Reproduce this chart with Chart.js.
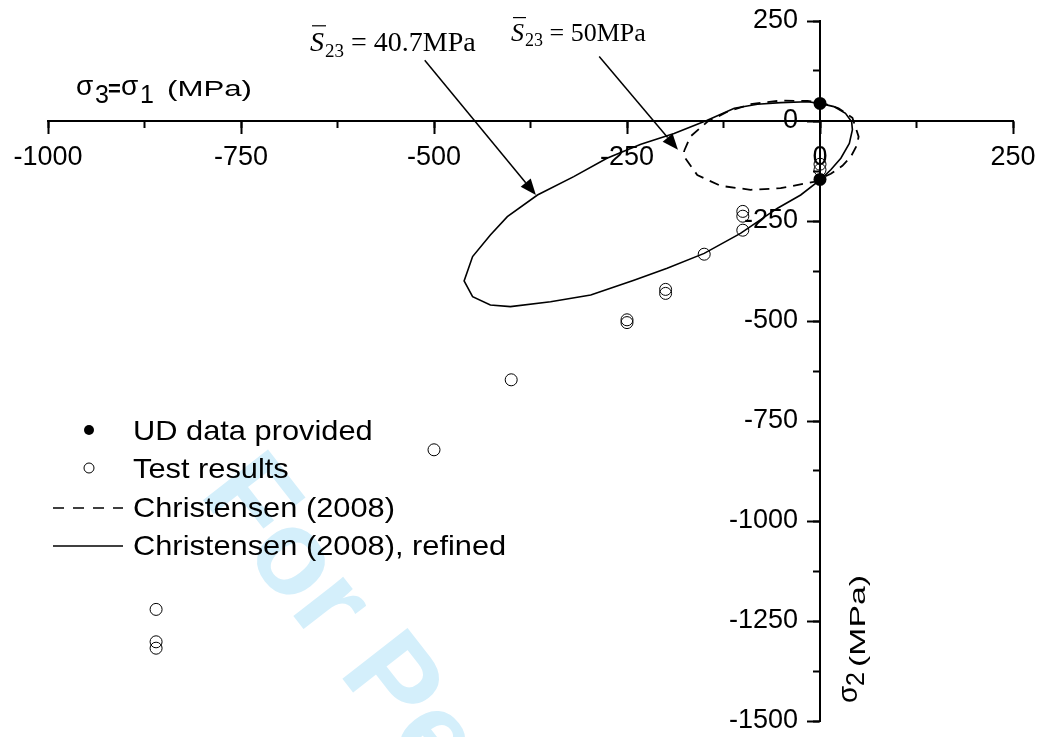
<!DOCTYPE html>
<html>
<head>
<meta charset="utf-8">
<script src="https://cdn.jsdelivr.net/npm/chart.js@4.4.1/dist/chart.umd.min.js"></script>
<style>
  html, body { margin: 0; padding: 0; background: #fff; }
</style>
</head>
<body>
<canvas id="chart" width="1039" height="737"></canvas>
<script>
// UD data provided  (x = sigma3 = sigma1, y = sigma2, MPa)
const udX = [0, 0];
const udY = [44, -146];

// test results
const testX = [0, 0, -100, -100, -100, -150, -200, -200, -250, -250, -400, -500, -860, -860, -860];
const testY = [-108, -122, -226, -238, -273, -333, -421, -431, -497, -504, -647, -822, -1221, -1302, -1318];

// Christensen (2008), S23 = 50 MPa  (read round the dashed curve)
const chrX = [-176, -168, -146, -120, -90, -51, -16, 1, 24, 42, 50, 48, 40, 29, 14, -8, -51, -90, -129, -159, -176, -176];
const chrY = [-75, -39, -2, 23, 42, 51, 50, 46, 32, 8, -39, -60, -89, -112, -132, -152, -168, -172, -162, -135, -89, -75];

// Christensen (2008), refined, S23 = 40.7 MPa
const refX = [0, 18, 33, 41, 42, 38, 27, 14, 1, -25, -55, -103, -150, -198, -241, -297, -349, -401, -427, -450, -461, -450, -427, -405, -366, -319, -276, -232, -189, -146, -111, -81, -51, -16, 0];
const refY = [44, 36, 19, -2, -22, -56, -93, -122, -146, -185, -218, -281, -331, -368, -398, -435, -452, -464, -460, -439, -400, -339, -285, -239, -185, -139, -93, -58, -31, 2, 32, 42, 46, 48, 44];

const xTicks = [-1000, -750, -500, -250, 0, 250];
const yTicks = [250, 0, -250, -500, -750, -1000, -1250, -1500];

const seriesNames = ['UD data provided', 'Test results', 'Christensen (2008)', 'Christensen (2008), refined'];

const SANS = "'Liberation Sans', Arial, sans-serif";
const SERIF = "'Liberation Serif', 'Times New Roman', serif";

function pts(xs, ys) {
    return xs.map((x, i) => ({ x: x, y: ys[i] }));
}

// center axes should not eat room from the chart area
function flatten(s) {
    if (s.isHorizontal()) s.height = 0; else s.width = 0;
    s.paddingLeft = s.paddingRight = s.paddingTop = s.paddingBottom = 0;
}

// arrows: [fromX, fromY, toX, toY] in data units
const arrows = [
    [-512, 152, -368, -185],
    [-286, 161, -184, -72]
];

function drawEq(ctx, x, base, size, val) {
    ctx.fillStyle = '#000';
    ctx.textAlign = 'left';
    ctx.textBaseline = 'alphabetic';
    ctx.font = 'italic ' + size + 'px ' + SERIF;
    let w = ctx.measureText('S').width;
    ctx.fillText('S', x, base);
    ctx.beginPath();
    ctx.lineWidth = 1.2;
    ctx.strokeStyle = '#000';
    ctx.moveTo(x + 2, base - size * 0.9);
    ctx.lineTo(x + w + 2, base - size * 0.9);
    ctx.stroke();
    let cx = x + w + 1;
    ctx.font = Math.round(size * 0.68) + 'px ' + SERIF;
    ctx.fillText('23', cx, base + size * 0.2);
    cx += ctx.measureText('23').width + size * 0.25;
    ctx.font = size + 'px ' + SERIF;
    ctx.fillText('=', cx, base);
    cx += ctx.measureText('=').width + size * 0.25;
    ctx.fillText(val, cx, base);
}

const extras = {
    id: 'extras',
    beforeDraw(chart) {
        const ctx = chart.ctx;
        ctx.save();
        ctx.translate(198, 494);
        ctx.rotate(52 * Math.PI / 180);
        ctx.font = 'bold 120px ' + SANS;
        ctx.fillStyle = 'rgb(212, 239, 251)';
        ctx.textBaseline = 'alphabetic';
        ctx.fillText('For Peer Review', 0, 0);
        ctx.restore();

        // y labels sit left of the ticks, not on the axis line
        const s = chart.scales.y;
        const items = s.getLabelItems(chart.chartArea);
        if (!items._moved) {
            items.forEach(it => { it.options.translation[0] -= 22; });
            items._moved = true;
        }
    },
    afterDraw(chart) {
        const ctx = chart.ctx;
        const sx = chart.scales.x, sy = chart.scales.y;
        ctx.save();

        // axis titles
        ctx.fillStyle = '#000';
        ctx.textBaseline = 'alphabetic';
        ctx.textAlign = 'left';
        ctx.font = '28px ' + SANS;
        ctx.fillText('σ', 76, 95);
        ctx.fillText('σ', 121, 95);
        ctx.font = 'bold 22px ' + SANS;
        ctx.fillText('=', 108, 96);
        ctx.font = '25px ' + SANS;
        ctx.fillText('3', 95, 103);
        ctx.fillText('1', 140, 103);
        ctx.save();
        ctx.font = '22px ' + SANS;
        let mw = ctx.measureText('(MPa)').width;
        ctx.translate(167, 96);
        ctx.scale(85 / mw, 1);
        ctx.fillText('(MPa)', 0, 0);
        ctx.restore();

        ctx.save();
        ctx.translate(857, 703);
        ctx.rotate(-Math.PI / 2);
        ctx.font = '28px ' + SANS;
        ctx.fillText('σ', 0, 0);
        ctx.font = '25px ' + SANS;
        ctx.fillText('2', 17, 7);
        ctx.font = '22px ' + SANS;
        ctx.translate(36, 8);
        ctx.scale(92 / mw, 1);
        ctx.fillText('(MPa)', 0, 0);
        ctx.restore();

        // annotations
        drawEq(ctx, 310, 51, 28, '40.7MPa');
        drawEq(ctx, 511, 41, 26, '50MPa');

        arrows.forEach(a => {
            const x1 = sx.getPixelForValue(a[0]), y1 = sy.getPixelForValue(a[1]);
            const x2 = sx.getPixelForValue(a[2]), y2 = sy.getPixelForValue(a[3]);
            const ang = Math.atan2(y2 - y1, x2 - x1);
            const hl = 16, hw = 6.5;
            ctx.beginPath();
            ctx.strokeStyle = '#000';
            ctx.lineWidth = 1.5;
            ctx.moveTo(x1, y1);
            ctx.lineTo(x2 - Math.cos(ang) * hl, y2 - Math.sin(ang) * hl);
            ctx.stroke();
            ctx.beginPath();
            ctx.fillStyle = '#000';
            ctx.moveTo(x2, y2);
            ctx.lineTo(x2 - Math.cos(ang) * hl - Math.sin(ang) * hw, y2 - Math.sin(ang) * hl + Math.cos(ang) * hw);
            ctx.lineTo(x2 - Math.cos(ang) * hl + Math.sin(ang) * hw, y2 - Math.sin(ang) * hl - Math.cos(ang) * hw);
            ctx.closePath();
            ctx.fill();
        });

        // legend
        const rows = [440, 478, 517, 555];
        const ds = chart.data.datasets;
        rows.forEach((b, i) => {
            const d = ds[i];
            const my = b - 9;
            if (i < 2) {
                ctx.beginPath();
                ctx.arc(89, my - 1, 5, 0, Math.PI * 2);
                if (i === 0) { ctx.fillStyle = '#000'; ctx.fill(); }
                else { ctx.lineWidth = 1; ctx.strokeStyle = '#000'; ctx.stroke(); }
            } else {
                ctx.beginPath();
                ctx.lineWidth = 1.6;
                ctx.strokeStyle = '#000';
                ctx.setLineDash(i === 2 ? [11, 9] : []);
                ctx.moveTo(53, my);
                ctx.lineTo(123, my);
                ctx.stroke();
                ctx.setLineDash([]);
            }
            ctx.save();
            ctx.font = '28px ' + SANS;
            ctx.fillStyle = '#000';
            ctx.translate(133, b);
            ctx.scale(1.1, 1);
            ctx.fillText(d.label, 0, 0);
            ctx.restore();
        });
        ctx.restore();
    }
};

const tickFont = { family: SANS, size: 27 };

new Chart(document.getElementById('chart'), {
    type: 'scatter',
    data: {
        datasets: [
            {
                label: seriesNames[0],
                data: pts(udX, udY),
                pointRadius: 6.5,
                pointBackgroundColor: '#000',
                pointBorderColor: '#000',
                pointBorderWidth: 0
            },
            {
                label: seriesNames[1],
                data: pts(testX, testY),
                pointRadius: 6,
                pointBackgroundColor: 'rgba(0,0,0,0)',
                pointBorderColor: '#000',
                pointBorderWidth: 1
            },
            {
                label: seriesNames[2],
                data: pts(chrX, chrY),
                showLine: true,
                borderColor: '#000',
                borderWidth: 1.8,
                borderDash: [10, 7],
                pointRadius: 0,
                tension: 0
            },
            {
                label: seriesNames[3],
                data: pts(refX, refY),
                showLine: true,
                borderColor: '#000',
                borderWidth: 1.6,
                pointRadius: 0,
                tension: 0
            }
        ]
    },
    options: {
        responsive: false,
        animation: false,
        devicePixelRatio: 1,
        layout: { padding: { left: 48, right: 26, top: 21, bottom: 16 } },
        plugins: { legend: { display: false }, tooltip: { enabled: false } },
        scales: {
            x: {
                type: 'linear', min: -1000, max: 250,
                position: { y: 0 },
                afterBuildTicks: s => { s.ticks = xTicks.map(v => ({ value: v })); },
                afterFit: flatten,
                grid: { drawOnChartArea: false, tickLength: 12, tickWidth: 2, tickColor: '#000' },
                border: { display: true, color: '#000', width: 2 },
                ticks: { font: tickFont, color: '#000', padding: 8, maxRotation: 0, autoSkip: false, callback: v => String(v) }
            },
            x2: {
                type: 'linear', axis: 'x', min: -1000, max: 250,
                position: { y: 0 },
                afterFit: flatten,
                grid: { drawOnChartArea: false, tickLength: 7, tickWidth: 2, tickColor: '#000' },
                border: { display: false },
                ticks: { stepSize: 125, autoSkip: false, callback: () => '' }
            },
            y: {
                type: 'linear', min: -1500, max: 250,
                position: { x: 0 },
                afterBuildTicks: s => { s.ticks = yTicks.map(v => ({ value: v })); },
                afterFit: flatten,
                grid: { drawOnChartArea: false, tickLength: 12, tickWidth: 2, tickColor: '#000' },
                border: { display: true, color: '#000', width: 2 },
                ticks: { font: tickFont, color: '#000', padding: 10, autoSkip: false, callback: v => String(v) }
            },
            y2: {
                type: 'linear', axis: 'y', min: -1500, max: 250,
                position: { x: 0 },
                afterFit: flatten,
                grid: { drawOnChartArea: false, tickLength: 7, tickWidth: 2, tickColor: '#000' },
                border: { display: false },
                ticks: { stepSize: 125, autoSkip: false, callback: () => '' }
            }
        }
    },
    plugins: [extras]
});
</script>
</body>
</html>
